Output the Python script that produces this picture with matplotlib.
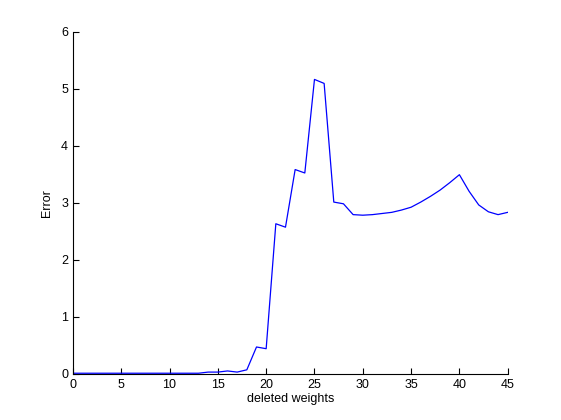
import numpy as np
import matplotlib
matplotlib.use('Agg')
import matplotlib.pyplot as plt

plt.rcParams['font.family'] = ['Liberation Sans', 'DejaVu Sans']

# deleted weights vs error
deleted = list(range(0, 46))
error = [0.01] * 14 + [
    0.03, 0.03, 0.05, 0.03, 0.07, 0.47, 0.44,   # 14-20
    2.63, 2.57, 3.58, 3.52, 5.16, 5.09,         # 21-26
    3.01, 2.98, 2.79, 2.78, 2.79, 2.81, 2.83,   # 27-33
    2.87, 2.92, 3.01, 3.11, 3.22, 3.35, 3.49,   # 34-40
    3.20, 2.96, 2.84, 2.79, 2.83,               # 41-45
]
xticks = [0, 5, 10, 15, 20, 25, 30, 35, 40, 45]
yticks = [0, 1, 2, 3, 4, 5, 6]

fig = plt.figure(figsize=(5.61, 4.2), dpi=100)
ax = fig.add_axes([0.13, 0.11, 0.775, 0.815])
ax.plot(deleted, error, color='#0000ff', lw=0.9)
ax.set_xlim(0, 45)
ax.set_ylim(0, 6)
ax.set_xticks(xticks)
ax.set_yticks(yticks)
ax.tick_params(direction='in', length=4, labelsize=9, top=False, right=False)
for s in ['top', 'right']:
    ax.spines[s].set_visible(False)
ax.set_xlabel('deleted weights', fontsize=9, labelpad=2)
ax.set_ylabel('Error', fontsize=9, labelpad=6)
fig.savefig('out.png', dpi=100)
